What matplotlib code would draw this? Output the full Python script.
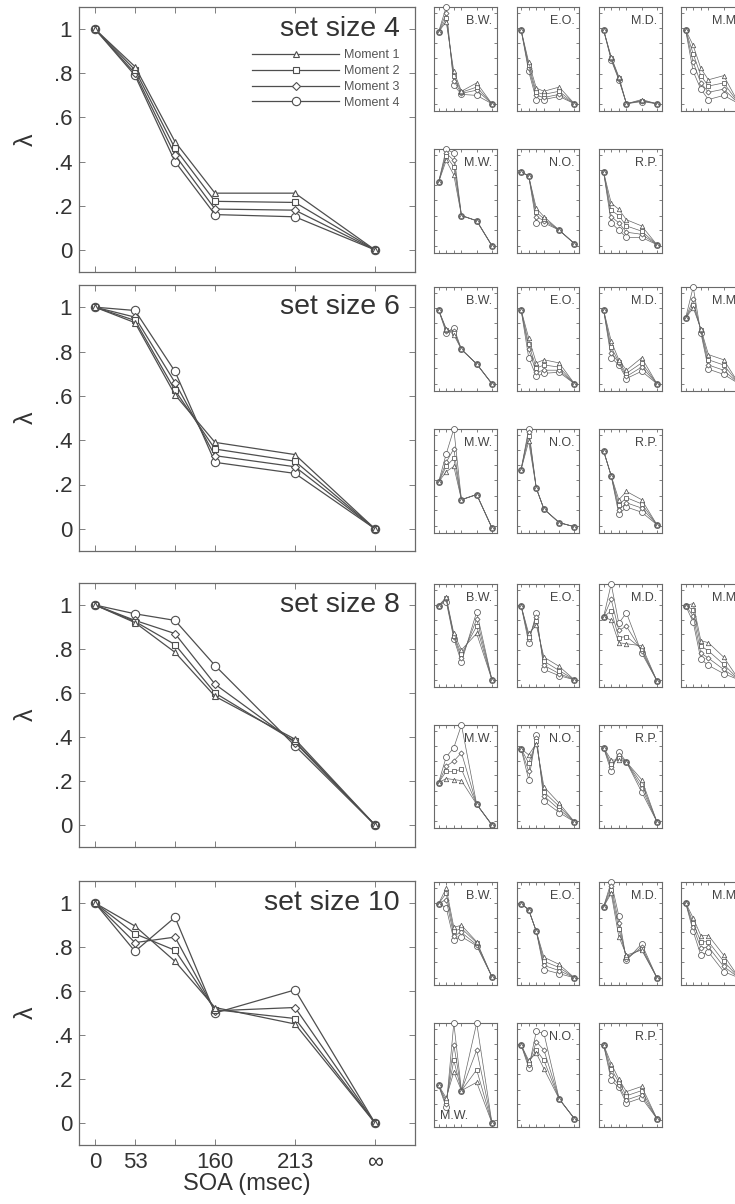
import matplotlib
matplotlib.use("Agg")
import matplotlib.pyplot as plt
from matplotlib.legend_handler import HandlerLine2D

plt.rcParams["font.family"] = ["Liberation Sans", "DejaVu Sans"]

# ---- data ---------------------------------------------------------------
soa_pos = [0, 1, 2, 3, 5, 7]
soa_labels = ["0", "53", "", "160", "213", "\u221e"]
set_sizes = [4, 6, 8, 10]
moment_names = ["Moment 1", "Moment 2", "Moment 3", "Moment 4"]

# group-level lambda, one list per moment
lam_ss4 = [[1.0, 0.83, 0.49, 0.257, 0.257, 0.0],
           [1.0, 0.815, 0.46, 0.22, 0.215, 0.0],
           [1.0, 0.80, 0.43, 0.185, 0.18, 0.0],
           [1.0, 0.79, 0.40, 0.16, 0.15, 0.0]]
lam_ss6 = [[1.0, 0.93, 0.605, 0.39, 0.335, 0.0],
           [1.0, 0.94, 0.625, 0.36, 0.305, 0.0],
           [1.0, 0.955, 0.66, 0.33, 0.28, 0.0],
           [1.0, 0.985, 0.71, 0.30, 0.25, 0.0]]
lam_ss8 = [[1.0, 0.92, 0.785, 0.585, 0.39, 0.0],
           [1.0, 0.925, 0.82, 0.60, 0.38, 0.0],
           [1.0, 0.93, 0.87, 0.64, 0.375, 0.0],
           [1.0, 0.96, 0.93, 0.725, 0.36, 0.0]]
lam_ss10 = [[1.0, 0.895, 0.735, 0.525, 0.45, 0.0],
            [1.0, 0.86, 0.785, 0.515, 0.475, 0.0],
            [1.0, 0.82, 0.845, 0.51, 0.525, 0.0],
            [1.0, 0.78, 0.935, 0.50, 0.605, 0.0]]

# individual observers (relative panel height), one list per moment
sub_ss4 = {
    "B.W.": [[0.76, 0.86, 0.38, 0.19, 0.27, 0.07], [0.76, 0.89, 0.34, 0.18, 0.23, 0.07],
             [0.76, 0.94, 0.29, 0.17, 0.20, 0.07], [0.76, 1.00, 0.25, 0.16, 0.15, 0.07]],
    "E.O.": [[0.78, 0.47, 0.22, 0.19, 0.23, 0.07], [0.78, 0.44, 0.18, 0.16, 0.19, 0.07],
             [0.78, 0.41, 0.15, 0.13, 0.16, 0.07], [0.78, 0.38, 0.11, 0.11, 0.14, 0.07]],
    "M.D.": [[0.78, 0.52, 0.33, 0.07, 0.11, 0.07], [0.78, 0.51, 0.32, 0.07, 0.10, 0.07],
             [0.78, 0.50, 0.31, 0.07, 0.10, 0.07], [0.78, 0.49, 0.30, 0.07, 0.09, 0.07]],
    "M.M.": [[0.78, 0.63, 0.41, 0.30, 0.34, 0.07], [0.78, 0.55, 0.34, 0.24, 0.27, 0.07],
             [0.78, 0.47, 0.27, 0.18, 0.21, 0.07], [0.78, 0.38, 0.21, 0.11, 0.15, 0.07]],
    "M.W.": [[0.68, 0.89, 0.75, 0.36, 0.31, 0.07], [0.68, 0.93, 0.83, 0.36, 0.31, 0.07],
             [0.68, 0.96, 0.89, 0.36, 0.31, 0.07], [0.68, 1.00, 0.96, 0.36, 0.31, 0.07]],
    "N.O.": [[0.78, 0.74, 0.43, 0.35, 0.22, 0.09], [0.78, 0.74, 0.39, 0.33, 0.22, 0.09],
             [0.78, 0.74, 0.35, 0.31, 0.22, 0.09], [0.78, 0.74, 0.29, 0.29, 0.22, 0.09]],
    "R.P.": [[0.78, 0.48, 0.42, 0.32, 0.26, 0.08], [0.78, 0.41, 0.36, 0.26, 0.21, 0.08],
             [0.78, 0.35, 0.29, 0.20, 0.18, 0.08], [0.78, 0.29, 0.22, 0.15, 0.15, 0.08]],
}
sub_ss6 = {
    "B.W.": [[0.78, 0.60, 0.54, 0.40, 0.26, 0.07], [0.78, 0.59, 0.56, 0.40, 0.26, 0.07],
             [0.78, 0.58, 0.58, 0.40, 0.26, 0.07], [0.78, 0.56, 0.61, 0.40, 0.26, 0.07]],
    "E.O.": [[0.78, 0.51, 0.27, 0.30, 0.27, 0.07], [0.78, 0.45, 0.22, 0.25, 0.23, 0.07],
             [0.78, 0.40, 0.18, 0.20, 0.20, 0.07], [0.78, 0.32, 0.14, 0.17, 0.18, 0.07]],
    "M.D.": [[0.78, 0.48, 0.30, 0.20, 0.32, 0.07], [0.78, 0.42, 0.28, 0.17, 0.27, 0.07],
             [0.78, 0.37, 0.27, 0.14, 0.23, 0.07], [0.78, 0.32, 0.25, 0.12, 0.19, 0.07]],
    "M.M.": [[0.70, 0.80, 0.60, 0.35, 0.30, 0.07], [0.70, 0.83, 0.59, 0.30, 0.25, 0.07],
             [0.70, 0.88, 0.58, 0.25, 0.20, 0.07], [0.70, 1.00, 0.56, 0.21, 0.16, 0.07]],
    "M.W.": [[0.49, 0.59, 0.64, 0.32, 0.37, 0.05], [0.49, 0.64, 0.72, 0.32, 0.37, 0.05],
             [0.49, 0.68, 0.81, 0.32, 0.37, 0.05], [0.49, 0.76, 1.00, 0.32, 0.37, 0.05]],
    "N.O.": [[0.61, 0.88, 0.43, 0.23, 0.10, 0.06], [0.61, 0.93, 0.43, 0.23, 0.10, 0.06],
             [0.61, 0.97, 0.43, 0.23, 0.10, 0.06], [0.61, 1.00, 0.43, 0.23, 0.10, 0.06]],
    "R.P.": [[0.79, 0.55, 0.32, 0.40, 0.32, 0.08], [0.79, 0.55, 0.27, 0.34, 0.28, 0.08],
             [0.79, 0.55, 0.22, 0.29, 0.24, 0.08], [0.79, 0.55, 0.18, 0.25, 0.20, 0.08]],
}
sub_ss8 = {
    "B.W.": [[0.79, 0.87, 0.52, 0.36, 0.52, 0.07], [0.79, 0.86, 0.50, 0.32, 0.59, 0.07],
             [0.79, 0.85, 0.49, 0.28, 0.66, 0.07], [0.79, 0.83, 0.47, 0.24, 0.73, 0.07]],
    "E.O.": [[0.79, 0.52, 0.60, 0.29, 0.20, 0.07], [0.79, 0.49, 0.64, 0.25, 0.16, 0.07],
             [0.79, 0.47, 0.68, 0.21, 0.13, 0.07], [0.79, 0.43, 0.72, 0.17, 0.11, 0.07]],
    "M.D.": [[0.68, 0.65, 0.43, 0.42, 0.40, 0.06], [0.68, 0.74, 0.48, 0.49, 0.37, 0.06],
             [0.68, 0.85, 0.55, 0.59, 0.35, 0.06], [0.68, 1.00, 0.62, 0.72, 0.33, 0.06]],
    "M.M.": [[0.79, 0.81, 0.45, 0.43, 0.29, 0.07], [0.79, 0.75, 0.40, 0.35, 0.22, 0.07],
             [0.79, 0.69, 0.33, 0.28, 0.17, 0.07], [0.79, 0.63, 0.27, 0.21, 0.13, 0.07]],
    "M.W.": [[0.44, 0.48, 0.47, 0.46, 0.23, 0.03], [0.44, 0.55, 0.55, 0.57, 0.23, 0.03],
             [0.44, 0.60, 0.65, 0.73, 0.23, 0.03], [0.44, 0.69, 0.78, 1.00, 0.23, 0.03]],
    "N.O.": [[0.77, 0.71, 0.82, 0.40, 0.24, 0.06], [0.77, 0.63, 0.84, 0.35, 0.21, 0.06],
             [0.77, 0.55, 0.87, 0.31, 0.18, 0.06], [0.77, 0.47, 0.90, 0.26, 0.15, 0.06]],
    "R.P.": [[0.78, 0.66, 0.66, 0.64, 0.47, 0.06], [0.78, 0.62, 0.68, 0.64, 0.43, 0.06],
             [0.78, 0.59, 0.71, 0.64, 0.39, 0.06], [0.78, 0.55, 0.74, 0.64, 0.35, 0.06]],
}
sub_ss10 = {
    "B.W.": [[0.79, 0.94, 0.56, 0.58, 0.42, 0.08], [0.79, 0.89, 0.52, 0.55, 0.41, 0.08],
             [0.79, 0.83, 0.48, 0.51, 0.39, 0.08], [0.79, 0.75, 0.44, 0.47, 0.38, 0.08]],
    "E.O.": [[0.79, 0.73, 0.52, 0.27, 0.20, 0.07], [0.79, 0.73, 0.52, 0.23, 0.17, 0.07],
             [0.79, 0.73, 0.52, 0.19, 0.14, 0.07], [0.79, 0.73, 0.52, 0.15, 0.11, 0.07]],
    "M.D.": [[0.76, 0.89, 0.47, 0.29, 0.34, 0.07], [0.76, 0.92, 0.54, 0.27, 0.35, 0.07],
             [0.76, 0.96, 0.60, 0.25, 0.37, 0.07], [0.76, 1.00, 0.67, 0.24, 0.40, 0.07]],
    "M.M.": [[0.80, 0.65, 0.48, 0.48, 0.29, 0.07], [0.80, 0.60, 0.42, 0.42, 0.23, 0.07],
             [0.80, 0.56, 0.36, 0.37, 0.18, 0.07], [0.80, 0.52, 0.29, 0.32, 0.13, 0.07]],
    "M.W.": [[0.40, 0.28, 0.53, 0.35, 0.43, 0.04], [0.40, 0.25, 0.64, 0.35, 0.55, 0.04],
             [0.40, 0.22, 0.79, 0.35, 0.74, 0.04], [0.40, 0.19, 1.00, 0.35, 1.00, 0.04]],
    "N.O.": [[0.79, 0.64, 0.71, 0.56, 0.27, 0.08], [0.79, 0.62, 0.74, 0.64, 0.27, 0.08],
             [0.79, 0.60, 0.82, 0.74, 0.27, 0.08], [0.79, 0.57, 0.92, 0.90, 0.27, 0.08]],
    "R.P.": [[0.79, 0.61, 0.46, 0.34, 0.39, 0.08], [0.79, 0.56, 0.43, 0.30, 0.35, 0.08],
             [0.79, 0.50, 0.40, 0.26, 0.31, 0.08], [0.79, 0.45, 0.38, 0.23, 0.28, 0.08]],
}
row1_subjects = ["B.W.", "E.O.", "M.D.", "M.M."]
row2_subjects = ["M.W.", "N.O.", "R.P."]

# ---- styling / layout -----------------------------------------------------
W, H = 735, 1204
ink = "#4e4e4e"
txt = "#333333"
markers = ["^", "s", "D", "o"]
msize_main = [4.5, 4.0, 3.6, 6.0]
msize_small = [3.2, 2.8, 2.6, 4.3]

main_left, main_right = 79, 415
main_tops = [7, 285, 583, 881]
main_bottoms = [272, 551, 847, 1145]
small_lefts = [434, 516.5, 599, 681]
small_w = 62.5
row1_tops = [7, 287, 584, 882]
row1_bottoms = [111, 391, 687, 985]
row2_tops = [149, 429, 725, 1023]
row2_bottoms = [253, 533, 828, 1127]


def add_axes_px(fig, left, top, right, bottom):
    return fig.add_axes([left / W, 1 - bottom / H, (right - left) / W, (bottom - top) / H])


class LeftMarkerHandler(HandlerLine2D):
    """Legend handle with the marker at the left end of a long line."""

    def get_xdata(self, legend, xdescent, ydescent, width, height, fontsize):
        xd, _ = super().get_xdata(legend, xdescent, ydescent, width, height, fontsize)
        return xd, [xd[0]]


def style_frame(ax, lw, ticklen):
    for sp in ax.spines.values():
        sp.set_color("#6a6a6a")
        sp.set_linewidth(lw)
    ax.tick_params(direction="in", top=True, right=True, length=ticklen,
                   width=0.6, color="#6a6a6a", labelcolor=txt)


fig = plt.figure(figsize=(W / 100, H / 100), dpi=100)
fig.patch.set_facecolor("white")

main_data = [lam_ss4, lam_ss6, lam_ss8, lam_ss10]
sub_data = [sub_ss4, sub_ss6, sub_ss8, sub_ss10]

for i, ss in enumerate(set_sizes):
    ax = add_axes_px(fig, main_left, main_tops[i], main_right, main_bottoms[i])
    handles = []
    for m in range(4):
        h, = ax.plot(soa_pos, main_data[i][m], color=ink, lw=0.9, marker=markers[m],
                     ms=msize_main[m], mfc="white", mec=ink, mew=0.8,
                     label=moment_names[m], zorder=3 + (3 - m))
        handles.append(h)
    ax.set_xlim(-0.4, 8.0)
    ax.set_ylim(-0.1, 1.1)
    ax.set_xticks(soa_pos)
    ax.set_yticks([0, 0.2, 0.4, 0.6, 0.8, 1.0])
    ax.set_yticklabels(["0", ".2", ".4", ".6", ".8", "1"], fontsize=16)
    if i == 3:
        ax.set_xticklabels(soa_labels, fontsize=16)
        ax.set_xlabel("SOA (msec)", fontsize=17, color=txt, labelpad=0)
    else:
        ax.set_xticklabels([])
    ax.set_ylabel("\u03bb", fontsize=18, color=txt, labelpad=11)
    style_frame(ax, 0.9, 4)
    ax.tick_params(axis="both", pad=5)
    ax.text(0.955, 0.965, f"set size {ss}", transform=ax.transAxes, ha="right",
            va="top", fontsize=20.5, color=txt)
    if i == 0:
        ax.legend(handles=handles, loc="upper right", bbox_to_anchor=(0.955, 0.84),
                  frameon=False, fontsize=9, handlelength=7.0, handletextpad=0.4,
                  labelspacing=0.3, borderpad=0, borderaxespad=0, labelcolor="#555555",
                  handler_map={h: LeftMarkerHandler() for h in handles})

    # individual observers
    panels = [(s, small_lefts[c], row1_tops[i], row1_bottoms[i]) for c, s in enumerate(row1_subjects)]
    panels += [(s, small_lefts[c], row2_tops[i], row2_bottoms[i]) for c, s in enumerate(row2_subjects)]
    for name, left, top, bottom in panels:
        sax = add_axes_px(fig, left, top, left + small_w, bottom)
        for m in range(4):
            sax.plot(soa_pos, sub_data[i][name][m], color="#666666", lw=0.5,
                     marker=markers[m], ms=msize_small[m], mfc="white", mec="#555555",
                     mew=0.55, clip_on=False, zorder=3 + (3 - m))
        sax.set_xlim(-0.6, 7.6)
        sax.set_ylim(0, 1)
        sax.set_xticks(soa_pos)
        sax.set_yticks([0.07, 0.22, 0.36, 0.51, 0.65, 0.80, 0.94])
        sax.set_xticklabels([])
        sax.set_yticklabels([])
        style_frame(sax, 0.8, 2)
        if ss == 10 and name == "M.W.":
            sax.text(0.1, 0.05, name, transform=sax.transAxes, ha="left", va="bottom",
                     fontsize=9, color="#444444")
        else:
            sax.text(0.93, 0.92, name, transform=sax.transAxes, ha="right", va="top",
                     fontsize=9, color="#444444")

fig.savefig("out.png", dpi=100)
